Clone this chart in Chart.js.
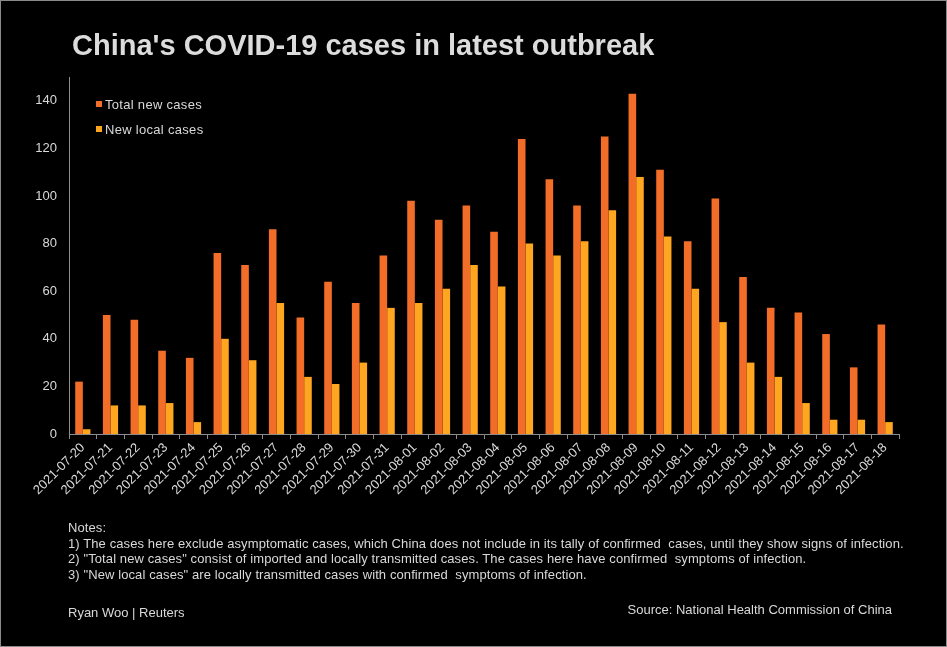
<!DOCTYPE html>
<html>
<head>
<meta charset="utf-8">
<script src="https://cdn.jsdelivr.net/npm/chart.js@4.4.1/dist/chart.umd.min.js"></script>
<style>
    html, body { margin: 0; padding: 0; background: #000; }
    #frame {
        position: relative; width: 945px; height: 645px;
        border: 1px solid #8a8a8a; background: #000; overflow: hidden;
        font-family: "Liberation Sans", Arial, sans-serif; color: #d9d9d9;
    }
    #chart-box { position: absolute; left: -1px; top: -1px; width: 947px; height: 647px; }
    .title { position: absolute; left: 71px; top: 28px; font-size: 29px; font-weight: bold; color: #dcdcdc; white-space: nowrap; }
    .legend { position: absolute; left: 95px; font-size: 13px; letter-spacing: 0.3px; white-space: nowrap; }
    .legend span { display: inline-block; width: 6px; height: 6px; margin-right: 3px; vertical-align: 2px; }
    .notes { position: absolute; left: 67px; top: 519px; font-size: 13px; letter-spacing: 0.1px; line-height: 15.5px; white-space: pre; }
    .credit { position: absolute; left: 67px; top: 604px; font-size: 13px; }
    .source { position: absolute; right: 54px; top: 601px; font-size: 13px; }
</style>
</head>
<body>
<div id="frame">
    <div id="chart-box"><canvas id="covidChart"></canvas></div>
    <div class="title">China's COVID-19 cases in latest outbreak</div>
    <div class="legend" style="top: 96px;"><span style="background:#f26e28"></span>Total new cases</div>
    <div class="legend" style="top: 121px;"><span style="background:#ffa621"></span>New local cases</div>
    <div class="notes">Notes:
1) The cases here exclude asymptomatic cases, which China does not include in its tally of confirmed  cases, until they show signs of infection.
2) "Total new cases" consist of imported and locally transmitted cases. The cases here have confirmed  symptoms of infection.
3) "New local cases" are locally transmitted cases with confirmed  symptoms of infection.</div>
    <div class="credit">Ryan Woo | Reuters</div>
    <div class="source">Source: National Health Commission of China</div>
</div>
<script>
// Data
const dates = [
    '2021-07-20', '2021-07-21', '2021-07-22', '2021-07-23', '2021-07-24', '2021-07-25',
    '2021-07-26', '2021-07-27', '2021-07-28', '2021-07-29', '2021-07-30', '2021-07-31',
    '2021-08-01', '2021-08-02', '2021-08-03', '2021-08-04', '2021-08-05', '2021-08-06',
    '2021-08-07', '2021-08-08', '2021-08-09', '2021-08-10', '2021-08-11', '2021-08-12',
    '2021-08-13', '2021-08-14', '2021-08-15', '2021-08-16', '2021-08-17', '2021-08-18'
];
const totalNewCases = [22, 50, 48, 35, 32, 76, 71, 86, 49, 64, 55, 75, 98, 90, 96, 85, 124, 107, 96, 125, 143, 111, 81, 99, 66, 53, 51, 42, 28, 46];
const newLocalCases = [2, 12, 12, 13, 5, 40, 31, 55, 24, 21, 30, 53, 55, 61, 71, 62, 80, 75, 81, 94, 108, 83, 61, 47, 30, 24, 13, 6, 6, 5];
const yTicks = [0, 20, 40, 60, 80, 100, 120, 140];

const AXIS_COLOR = '#8c8c8c';
const TEXT_COLOR = '#d9d9d9';

document.addEventListener('DOMContentLoaded', () => {
    const ctx = document.getElementById('covidChart').getContext('2d');

    new Chart(ctx, {
        type: 'bar',
        data: {
            labels: dates,
            datasets: [
                { label: 'Total new cases', data: totalNewCases, backgroundColor: '#f26e28', borderWidth: 0 },
                { label: 'New local cases', data: newLocalCases, backgroundColor: '#ffa621', borderWidth: 0 }
            ]
        },
        options: {
            responsive: true,
            maintainAspectRatio: false,
            animation: false,
            datasets: { bar: { categoryPercentage: 0.55, barPercentage: 1.0 } },
            layout: { padding: { left: 0, top: 77, right: 48, bottom: 113 } },
            plugins: { legend: { display: false }, tooltip: { enabled: false } },
            scales: {
                x: {
                    grid: { display: true, drawOnChartArea: false, drawTicks: true, tickLength: 5, color: AXIS_COLOR, offset: true },
                    border: { display: true, color: AXIS_COLOR, width: 1 },
                    ticks: {
                        color: TEXT_COLOR, font: { family: 'Liberation Sans', size: 13 },
                        maxRotation: 45, minRotation: 45, autoSkip: false, padding: 1
                    },
                    afterFit: (scale) => { scale.height = 100; }
                },
                y: {
                    min: 0,
                    max: 150,
                    grid: { display: false, drawTicks: false },
                    border: { display: true, color: AXIS_COLOR, width: 1 },
                    afterBuildTicks: (scale) => { scale.ticks = yTicks.map(v => ({ value: v })); },
                    ticks: { color: TEXT_COLOR, font: { family: 'Liberation Sans', size: 13 }, padding: 12 },
                    afterFit: (scale) => { scale.width = 69; }
                }
            }
        }
    });
});
</script>
</body>
</html>
